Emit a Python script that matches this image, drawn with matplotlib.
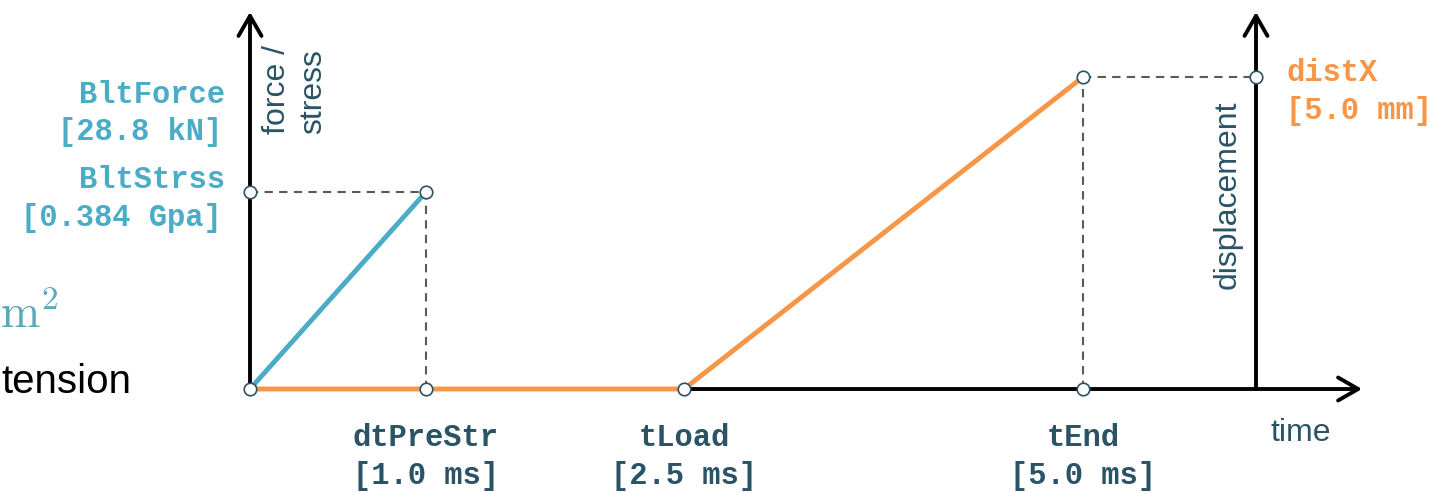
import numpy as np
import matplotlib
matplotlib.use('Agg')
import matplotlib.pyplot as plt

# 数据（时间单位 ms，应力 GPa，位移 mm）
t_prestr = 1.0
t_load = 2.5
t_end = 5.0
blt_force = 28.8
blt_stress = 0.384
dist_x = 5.0

time_names = ['dtPreStr', 'tLoad', 'tEnd']
time_vals = [t_prestr, t_load, t_end]

stress_t = [0.0, t_prestr]
stress_v = [0.0, blt_stress]
disp_t = [0.0, t_load, t_end]
disp_v = [0.0, 0.0, dist_x]

# 颜色
teal = '#4bacc6'
orange = '#f79646'
dark = '#2a5466'
dashc = '#5a5a5a'

W, H = 1438, 493
# 示意图的时间轴不是线性的：时间 -> 像素列
T_KNOTS = [-10.0, 0.0, 1.0, 2.5, 5.0, 15.0]
P_KNOTS = [250 - 1760, 250, 426, 684, 1083, 1083 + 1600]


def fwd(t):
    return np.interp(t, T_KNOTS, P_KNOTS)


def inv(p):
    return np.interp(p, P_KNOTS, T_KNOTS)


ROW0 = 389  # 基线所在行
ROW_S = 192  # BltStrss 所在行
ROW_D = 77  # distX 所在行


def lims(row_val, val):
    f0 = (H - ROW0) / H
    k = ((H - row_val) / H - f0) / val
    return -f0 / k, (1 - f0) / k


mono = dict(family='Liberation Mono', fontweight='bold', fontsize=22)
sans = dict(family='Liberation Sans', fontsize=23)

fig = plt.figure(figsize=(W / 100, H / 100), dpi=100)
ax = fig.add_axes([0, 0, 1, 1])
ax.set_xscale('function', functions=(fwd, inv))
ax.set_xlim(inv(0), inv(W))
ax.set_ylim(*lims(ROW_S, blt_stress))
ax2 = ax.twinx()
ax2.set_ylim(*lims(ROW_D, dist_x))
ax.axis('off')
ax2.axis('off')
ax.set_zorder(2)
ax.patch.set_visible(False)

td = ax2.transData
t_axis = inv(1256)  # 右侧纵轴位置
ylo, yhi = lims(ROW_S, blt_stress)
y_top = ylo + (yhi - ylo) * (H - 12) / H

# 坐标轴箭头
arr = dict(arrowstyle='->,head_length=0.4,head_width=0.23', lw=2.8, color='k',
           mutation_scale=36, shrinkA=0, shrinkB=0)
ax.annotate('', xy=(inv(1362), 0), xytext=(inv(248), 0), arrowprops=arr, zorder=1)
ax.annotate('', xy=(0, y_top), xytext=(0, 0), arrowprops=arr, zorder=1)
ax.annotate('', xy=(t_axis, y_top), xytext=(t_axis, 0), arrowprops=arr, zorder=1)

# 曲线
ax.plot(stress_t, stress_v, color=teal, lw=3.5, solid_capstyle='butt', zorder=3)
ax.plot(disp_t, disp_v, color=orange, lw=3.5, solid_capstyle='butt', zorder=3, transform=td)

# 虚线
ds = dict(color=dashc, lw=1.5, ls=(0, (4, 3)), zorder=2)
ax.plot([0, t_prestr], [blt_stress, blt_stress], **ds)
ax.plot([t_prestr, t_prestr], [0, blt_stress], **ds)
ax.plot([t_end, t_axis], [dist_x, dist_x], transform=td, **ds)
ax.plot([t_end, t_end], [0, dist_x], transform=td, **ds)

# 节点
mk = dict(ls='none', marker='o', ms=9, mfc='white', mec=dark, mew=1.2, zorder=5, clip_on=False)
ax.plot([0, t_prestr, 0, t_prestr], [blt_stress, blt_stress, 0, 0], **mk)
ax.plot([t_load, t_end, t_end, t_axis], [0, 0, dist_x, dist_x], transform=td, **mk)

# 左侧标签
op = 'offset pixels'
ax.annotate('BltForce', xy=(0, blt_stress), xytext=(-25, 97), textcoords=op,
            ha='right', va='center', color=teal, **mono)
ax.annotate('[%.1f kN]' % blt_force, xy=(0, blt_stress), xytext=(-28, 60), textcoords=op,
            ha='right', va='center', color=teal, **mono)
ax.annotate('BltStrss', xy=(0, blt_stress), xytext=(-25, 12), textcoords=op,
            ha='right', va='center', color=teal, **mono)
ax.annotate('[%.3f Gpa]' % blt_stress, xy=(0, blt_stress), xytext=(-28, -26), textcoords=op,
            ha='right', va='center', color=teal, **mono)

# 时间标签
for name, tv in zip(time_names, time_vals):
    ax.annotate(name, xy=(tv, 0), xytext=(0, -49), textcoords=op,
                ha='center', va='center', color=dark, **mono)
    ax.annotate('[%.1f ms]' % tv, xy=(tv, 0), xytext=(0, -87), textcoords=op,
                ha='center', va='center', color=dark, **mono)

# 位移标签
ax.annotate('distX', xy=(t_axis, dist_x), xycoords=td, xytext=(30, 4), textcoords=op,
            ha='left', va='center', color=orange, **mono)
ax.annotate('[%.1f mm]' % dist_x, xy=(t_axis, dist_x), xycoords=td, xytext=(30, -34),
            textcoords=op, ha='left', va='center', color=orange, **mono)

# 轴名称
fig.text(1301 / W, 1 - 433 / H, 'time', ha='center', va='center', color=dark, **sans)
fig.text(1228 / W, 1 - 195 / H, 'displacement', rotation=90, ha='center', va='center',
         color=dark, **sans)
fig.text(295 / W, 1 - 90 / H, 'force /\nstress', rotation=90, ha='center', va='center',
         multialignment='left', linespacing=1.25, color=dark, **sans)

# 左边幻灯片上残留的文字
plt.rcParams['mathtext.fontset'] = 'cm'
fig.text(58 / W, 1 - 328 / H, r'$\mathrm{m}^2$', ha='right', va='baseline',
         color='#5aa8b8', fontsize=34)
fig.text(1 / W, 1 - 393 / H, 'tension', ha='left', va='baseline',
         color='black', family='Liberation Sans', fontsize=29)

fig.savefig('out.png', dpi=100)
